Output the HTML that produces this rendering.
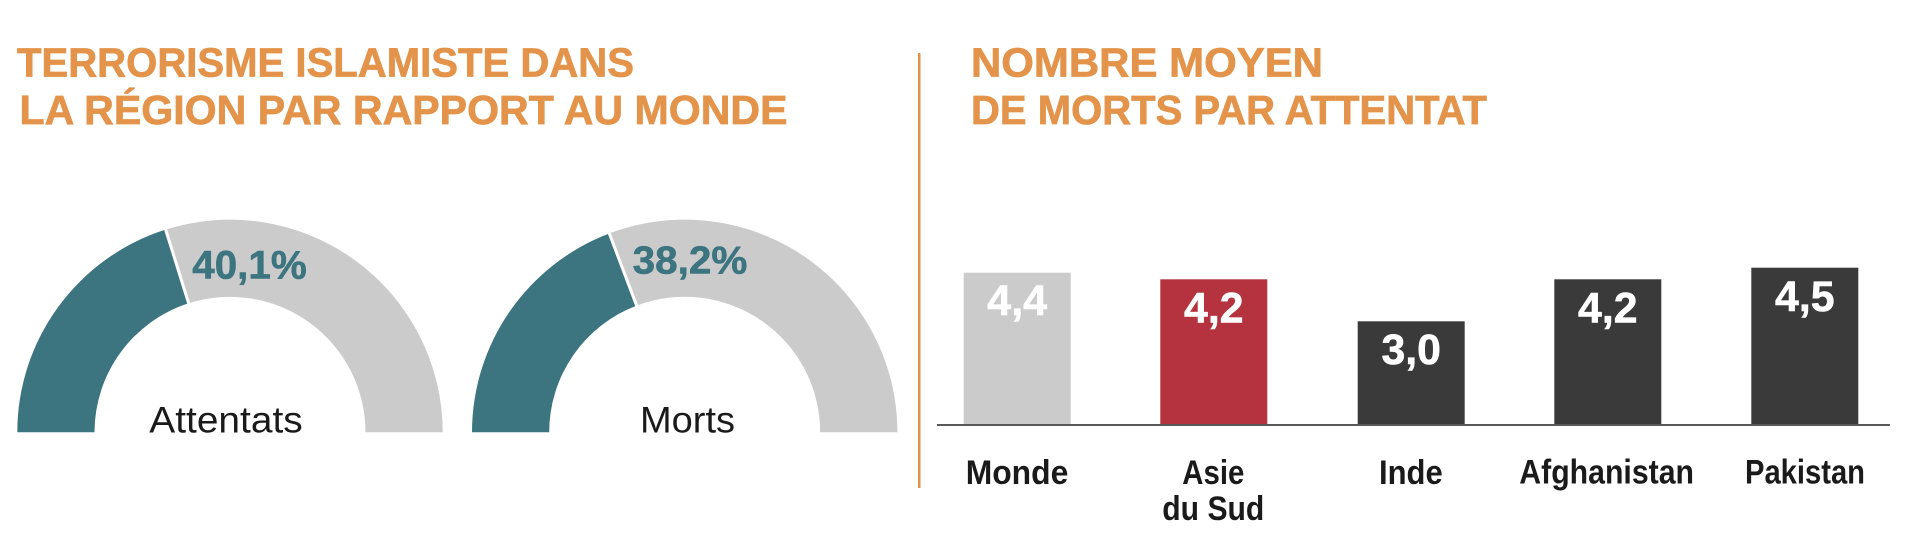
<!DOCTYPE html>
<html>
<head>
<meta charset="utf-8">
<style>
  html, body { margin: 0; padding: 0; background: #ffffff; }
  body { width: 1924px; height: 552px; overflow: hidden; }
  svg { display: block; }
  text { font-family: "Liberation Sans", "DejaVu Sans", sans-serif; }
</style>
</head>
<body>
<svg width="1924" height="552" viewBox="0 0 1924 552" xmlns="http://www.w3.org/2000/svg">
  <rect x="0" y="0" width="1924" height="552" fill="#ffffff"/>

  <!-- Titles -->
  <g fill="#E3944A" stroke="#E3944A" stroke-width="0.7" font-weight="bold" font-size="41">
    <text x="17" y="76.7" textLength="617" lengthAdjust="spacingAndGlyphs">TERRORISME ISLAMISTE DANS</text>
    <text x="19.5" y="124" textLength="768" lengthAdjust="spacingAndGlyphs">LA RÉGION PAR RAPPORT AU MONDE</text>
    <text x="971" y="76.7" textLength="352" lengthAdjust="spacingAndGlyphs">NOMBRE MOYEN</text>
    <text x="971" y="124" textLength="516" lengthAdjust="spacingAndGlyphs">DE MORTS PAR ATTENTAT</text>
  </g>

  <!-- Divider -->
  <rect x="918" y="53" width="2.5" height="435" fill="#E3944A"/>

  <!-- Gauge 1 -->
  <path d="M 17.3 432.3 A 212.7 212.7 0 0 1 165.0 229.8 L 188.6 303.3 A 135.5 135.5 0 0 0 94.5 432.3 Z" fill="#3C7480"/>
  <path d="M 165.0 229.8 A 212.7 212.7 0 0 1 442.7 432.3 L 365.5 432.3 A 135.5 135.5 0 0 0 188.6 303.3 Z" fill="#CBCBCB"/>
  <line x1="164.5" y1="226" x2="189.5" y2="306" stroke="#ffffff" stroke-width="3"/>
  <text x="192.3" y="278.3" font-size="40" font-weight="bold" fill="#3C7480" stroke="#3C7480" stroke-width="0.6" textLength="114.4" lengthAdjust="spacingAndGlyphs">40,1%</text>
  <text x="149.3" y="432.3" font-size="37" fill="#1a1a1a" textLength="153.4" lengthAdjust="spacingAndGlyphs">Attentats</text>

  <!-- Gauge 2 -->
  <path d="M 472 432.3 A 212.7 212.7 0 0 1 609.2 233.5 L 636.6 305.6 A 135.5 135.5 0 0 0 549.2 432.3 Z" fill="#3C7480"/>
  <path d="M 609.2 233.5 A 212.7 212.7 0 0 1 897.4 432.3 L 820.2 432.3 A 135.5 135.5 0 0 0 636.6 305.6 Z" fill="#CBCBCB"/>
  <line x1="608" y1="230" x2="637.5" y2="308" stroke="#ffffff" stroke-width="3"/>
  <text x="632.7" y="273.3" font-size="39" font-weight="bold" fill="#3C7480" stroke="#3C7480" stroke-width="0.6" textLength="114.6" lengthAdjust="spacingAndGlyphs">38,2%</text>
  <text x="640" y="432.3" font-size="37" fill="#1a1a1a" textLength="95" lengthAdjust="spacingAndGlyphs">Morts</text>

  <!-- Bars -->
  <rect x="963.7" y="272.7" width="107" height="151.8" fill="#CBCBCB"/>
  <rect x="1160.3" y="279.3" width="107" height="145.2" fill="#B5333E"/>
  <rect x="1357.7" y="321.3" width="107" height="103.2" fill="#3A3A3A"/>
  <rect x="1554.3" y="279.3" width="107" height="145.2" fill="#3A3A3A"/>
  <rect x="1751.3" y="267.7" width="107" height="156.8" fill="#3A3A3A"/>
  <line x1="937" y1="425" x2="1890" y2="425" stroke="#5a5a5a" stroke-width="2"/>

  <!-- Bar value labels -->
  <g fill="#ffffff" stroke="#ffffff" stroke-width="0.6" font-weight="bold" font-size="43" text-anchor="middle">
    <text x="1017.2" y="315" textLength="60" lengthAdjust="spacingAndGlyphs">4,4</text>
    <text x="1213.8" y="322.3" textLength="59.5" lengthAdjust="spacingAndGlyphs">4,2</text>
    <text x="1411.2" y="364.1" textLength="59.5" lengthAdjust="spacingAndGlyphs">3,0</text>
    <text x="1607.8" y="322.3" textLength="59.5" lengthAdjust="spacingAndGlyphs">4,2</text>
    <text x="1804.8" y="311" textLength="59.5" lengthAdjust="spacingAndGlyphs">4,5</text>
  </g>

  <!-- Category labels -->
  <g fill="#1a1a1a" font-weight="bold" font-size="34">
    <text x="965.7" y="484" textLength="102.6" lengthAdjust="spacingAndGlyphs">Monde</text>
    <text x="1182.3" y="484" textLength="62" lengthAdjust="spacingAndGlyphs">Asie</text>
    <text x="1162.3" y="520" textLength="102" lengthAdjust="spacingAndGlyphs">du Sud</text>
    <text x="1379" y="484" textLength="63.7" lengthAdjust="spacingAndGlyphs">Inde</text>
    <text x="1519.3" y="483.5" textLength="174.7" lengthAdjust="spacingAndGlyphs">Afghanistan</text>
    <text x="1745" y="483.5" textLength="120" lengthAdjust="spacingAndGlyphs">Pakistan</text>
  </g>
</svg>
</body>
</html>
